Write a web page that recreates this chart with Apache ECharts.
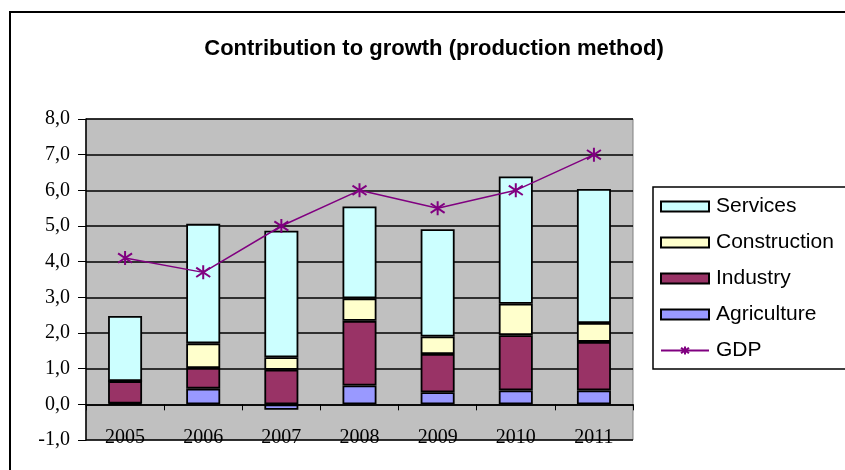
<!DOCTYPE html>
<html lang="en">
<head>
    <meta charset="UTF-8">
    <title>Contribution to growth</title>
    <script src="https://cdn.jsdelivr.net/npm/echarts@6/dist/echarts.min.js"></script>
    <style>
        html, body { margin: 0; padding: 0; background: #fff; }
    </style>
</head>
<body>
<div id="chart" style="width:845px;height:470px;"></div>
<script>
    var years = ['2005', '2006', '2007', '2008', '2009', '2010', '2011'];
    var agriculture = [0.02, 0.44, -0.15, 0.53, 0.34, 0.39, 0.39];
    var industry = [0.63, 0.58, 0.97, 1.81, 1.07, 1.55, 1.36];
    var construction = [0, 0.69, 0.35, 0.63, 0.49, 0.88, 0.53];
    var services = [1.83, 3.35, 3.55, 2.58, 3.01, 3.57, 3.76];
    var gdp = [4.1, 3.7, 5.0, 6.0, 5.5, 6.0, 7.0];
    var yMin = -1, yMax = 8, yStep = 1;

    var star = 'path://M6,0 L6,12 M0,2 L12,10 M0,10 L12,2';

    function bar(name, data, color) {
        return {
            name: name,
            type: 'bar',
            stack: 'total',
            barWidth: 34,
            data: data,
            itemStyle: { color: color, borderColor: '#000', borderWidth: 1.8 }
        };
    }

    var gridTop = 119, gridHeight = 321;
    // x axis sits on the zero line: shift it up from the grid bottom
    var zeroShift = gridHeight * (0 - yMin) / (yMax - yMin);

    var myChart = echarts.init(document.getElementById('chart'));
    var option = {
        backgroundColor: '#fff',
        animation: false,
        title: {
            text: 'Contribution to growth (production method)',
            left: 429,
            textAlign: 'center',
            top: 33,
            textStyle: { fontFamily: 'Liberation Sans', fontWeight: 'bold', fontSize: 22, color: '#000' }
        },
        graphic: [
            { type: 'rect', shape: { x: 10, y: 12, width: 900, height: 500 },
              style: { fill: 'none', stroke: '#000', lineWidth: 2 } },
            { type: 'rect', shape: { x: 653, y: 187, width: 300, height: 182 },
              style: { fill: 'none', stroke: '#000', lineWidth: 1.5 } }
        ],
        legend: {
            orient: 'vertical',
            left: 655,
            top: 191,
            itemWidth: 48,
            itemHeight: 10,
            itemGap: 15,
            data: [
                { name: 'Services', icon: 'rect' },
                { name: 'Construction', icon: 'rect' },
                { name: 'Industry', icon: 'rect' },
                { name: 'Agriculture', icon: 'rect' },
                { name: 'GDP' }
            ],
            textStyle: { fontFamily: 'Liberation Sans', fontSize: 21, color: '#000', padding: [0, 0, 0, 2] }
        },
        grid: {
            left: 86, top: gridTop, width: 547, height: gridHeight,
            outerBoundsMode: 'none',
            containLabel: false,
            show: true, backgroundColor: '#c0c0c0', borderColor: '#808080', borderWidth: 1
        },
        xAxis: {
            type: 'category',
            data: years,
            offset: -zeroShift,
            axisLine: { onZero: false, lineStyle: { color: '#000', width: 1.5 } },
            axisTick: { show: true, length: 6, lineStyle: { color: '#000' } },
            axisLabel: { margin: 23, fontFamily: 'Liberation Serif', fontSize: 20, color: '#000' }
        },
        yAxis: {
            type: 'value',
            min: yMin, max: yMax, interval: yStep,
            axisLine: { show: true, lineStyle: { color: '#000', width: 1.5 } },
            axisTick: { show: true, length: 8, lineStyle: { color: '#000' } },
            splitLine: { lineStyle: { color: '#000', width: 1.5 } },
            axisLabel: {
                margin: 16, fontFamily: 'Liberation Serif', fontSize: 20, color: '#000',
                formatter: function (v) { return v.toFixed(1).replace('.', ','); }
            }
        },
        series: [
            bar('Agriculture', agriculture, '#9999ff'),
            bar('Industry', industry, '#993366'),
            bar('Construction', construction, '#ffffcc'),
            bar('Services', services, '#ccffff'),
            {
                name: 'GDP',
                type: 'line',
                data: gdp,
                symbol: star,
                symbolSize: 14,
                lineStyle: { color: '#800080', width: 1.5 },
                itemStyle: { color: '#800080', borderColor: '#800080', borderWidth: 2 },
                z: 5
            }
        ]
    };
    myChart.setOption(option);
</script>
</body>
</html>
